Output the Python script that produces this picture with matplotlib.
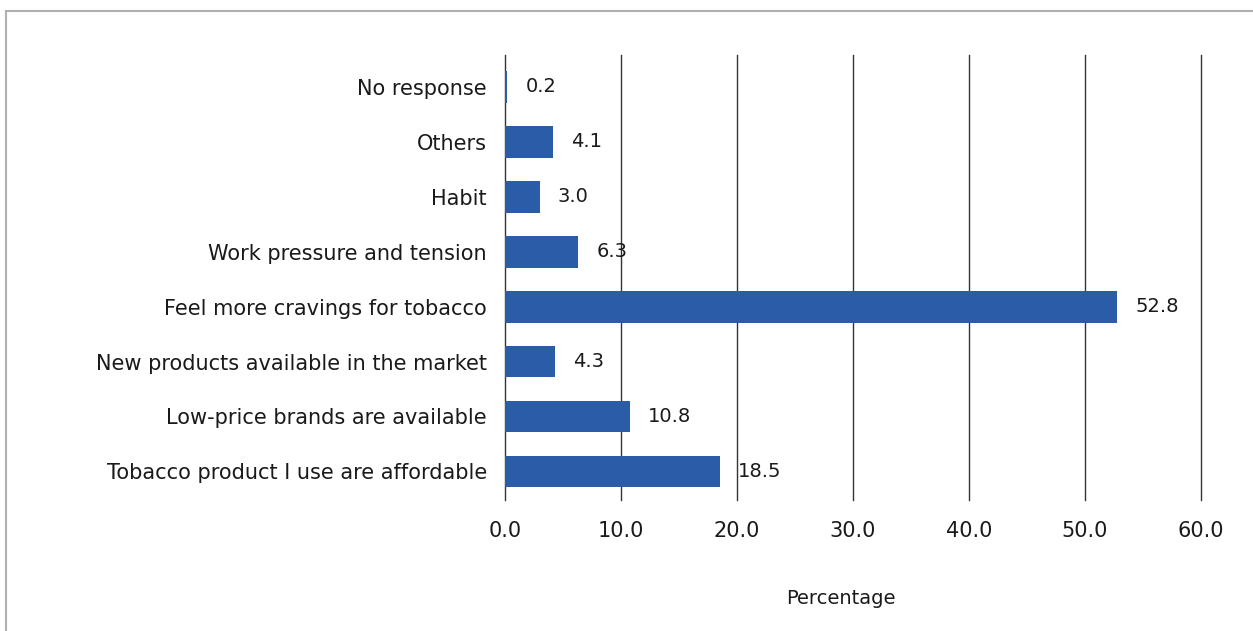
import matplotlib
matplotlib.use("Agg")
import matplotlib.pyplot as plt
from matplotlib.patches import Rectangle

categories = [
    "Tobacco product I use are affordable",
    "Low-price brands are available",
    "New products available in the market",
    "Feel more cravings for tobacco",
    "Work pressure and tension",
    "Habit",
    "Others",
    "No response",
]
values = [18.5, 10.8, 4.3, 52.8, 6.3, 3.0, 4.1, 0.2]
xticks = [0, 10, 20, 30, 40, 50, 60]

plt.rcParams['font.family'] = ['DejaVu Sans']

W, H = 1253, 631
fig = plt.figure(figsize=(W / 100, H / 100), dpi=100)
fig.patch.set_facecolor("white")

# outer border
fig.patches.append(Rectangle((6 / W, -0.1), 1.2, (H - 11) / H + 0.1, transform=fig.transFigure,
                             fill=False, edgecolor="#b0b0b0", linewidth=1.5))

ax = fig.add_axes([505 / W, (H - 500) / H, (1201 - 505) / W, 445 / H])
pos = list(range(len(categories)))
ax.barh(pos, values, height=0.58, color="#2B5CA8", zorder=3)
ax.set_xlim(0, 60)
ax.set_ylim(-0.52, 7.58)
ax.set_xticks(xticks)
ax.set_xticklabels([f"{t:.1f}" for t in xticks], fontsize=15, color="#1a1a1a")
ax.set_yticks(pos)
ax.set_yticklabels(categories, fontsize=15, color="#1a1a1a")
ax.tick_params(axis="both", length=0)
ax.tick_params(axis="x", pad=15)
ax.tick_params(axis="y", pad=13)
for s in ax.spines.values():
    s.set_visible(False)
ax.grid(axis="x", color="#333333", linewidth=1.0, zorder=1)
ax.set_axisbelow(True)
for gl in ax.get_xgridlines():
    gl.set_clip_on(False)

for p, v in zip(pos, values):
    ax.annotate(f"{v:.1f}", (v, p), xytext=(13, 0), textcoords="offset points",
                va="center", ha="left", fontsize=14, color="#1a1a1a", zorder=4)

fig.text(841 / W, 1 - 599 / H, "Percentage", ha="center", va="center", fontsize=14, color="#1a1a1a")

fig.savefig("out.png", dpi=100)
